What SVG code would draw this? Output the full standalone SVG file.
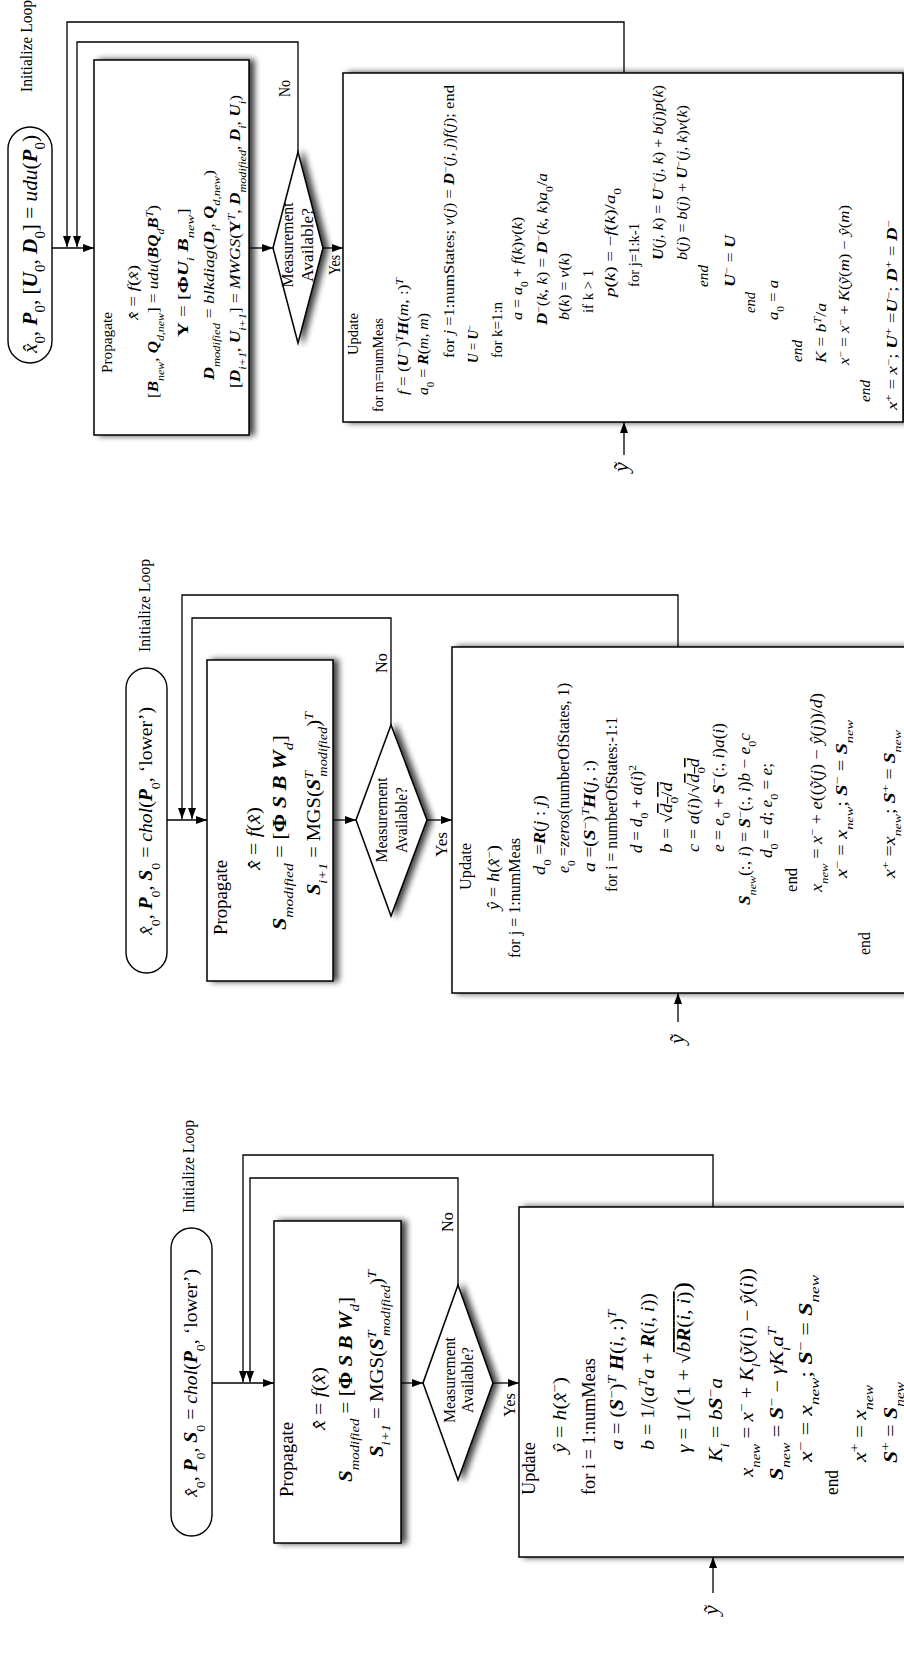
<svg xmlns="http://www.w3.org/2000/svg" width="904" height="1655" viewBox="0 0 904 1655">
<style>
text{font-family:"Liberation Serif","DejaVu Serif",serif;fill:#000}
.i{font-style:italic}
.b{font-weight:bold;font-style:italic}
.bu{font-weight:bold}
.sb{font-size:70%;baseline-shift:sub}
.sp{font-size:70%;baseline-shift:super}
.f1{font-size:18px}
.f2{font-size:16px}
.f3{font-size:14px}
.f4{font-size:15px}
.lb{font-size:16px}
.pl{font-size:19px}
.yt{font-size:22px;font-style:italic;text-anchor:middle}
.mid{text-anchor:middle}
.pill{fill:#fff;stroke:#000;stroke-width:1.4}
.box{fill:#fff;stroke:#000;stroke-width:1.5;filter:url(#sh)}
.ln{fill:none;stroke:#000;stroke-width:1.3}
.ar{marker-end:url(#ah)}
.ov{text-decoration:overline}
</style>
<defs>
<marker id="ah" viewBox="0 0 11 8" refX="11" refY="4" markerWidth="11" markerHeight="8" markerUnits="userSpaceOnUse" orient="auto"><path d="M0,0 L11,4 L0,8 z" fill="#000"/></marker>
<filter id="sh" x="-5%" y="-10%" width="115%" height="130%">
<feGaussianBlur in="SourceAlpha" stdDeviation="3"/>
<feOffset dx="0" dy="5"/>
<feComponentTransfer><feFuncA type="linear" slope="0.75"/></feComponentTransfer>
<feMerge><feMergeNode/><feMergeNode in="SourceGraphic"/></feMerge>
</filter>
</defs>
<rect width="904" height="1655" fill="#fff"/>
<g transform="translate(0,1655) rotate(-90)">

<!-- ===== Chart 1 ===== -->
<g id="c1-start">
<rect class="pill" x="119" y="171" width="308" height="41" rx="20.5"/>
<text class="pl mid" x="272" y="197" textLength="228" lengthAdjust="spacingAndGlyphs"><tspan class="i">x̂</tspan><tspan class="sb">0</tspan>,  <tspan class="b">P</tspan><tspan class="sb">0</tspan>,  <tspan class="b">S</tspan><tspan class="sb">0</tspan> = <tspan class="i">chol</tspan>(<tspan class="b">P</tspan><tspan class="sb">0</tspan>, ‘lower’)</text>
</g>
<g id="c1-propagate">
<rect class="box" x="112" y="274" width="322" height="127"/>
<text class="f1" x="158" y="293" textLength="75" lengthAdjust="spacingAndGlyphs">Propagate</text>
<text class="f1" x="225" y="325" textLength="63" lengthAdjust="spacingAndGlyphs"><tspan class="i">x̂̇</tspan> = <tspan class="i">f</tspan>(<tspan class="i">x̂</tspan>)</text>
<text class="f1" x="173" y="352" textLength="185" lengthAdjust="spacingAndGlyphs"><tspan class="b">S</tspan><tspan class="sb i">modified</tspan> = [<tspan class="bu">Φ</tspan> <tspan class="b">S</tspan>   <tspan class="b">B</tspan> <tspan class="b">W</tspan><tspan class="sb i">d</tspan>]</text>
<text class="f1" x="198" y="383" textLength="187" lengthAdjust="spacingAndGlyphs"><tspan class="b">S</tspan><tspan class="sb i">i+1</tspan> = MGS(<tspan class="b">S</tspan><tspan class="sp i">T</tspan><tspan class="sb i" dx="-5">modified</tspan>)<tspan class="sp i">T</tspan></text>
</g>
<g id="c1-decision">
<polygon class="box" points="272,423 370,458 272,493 175,458"/>
<text class="lb mid" x="275" y="455" textLength="86" lengthAdjust="spacingAndGlyphs">Measurement</text>
<text class="lb mid" x="275" y="473" textLength="66" lengthAdjust="spacingAndGlyphs">Available?</text>
</g>
<g id="c1-update">
<rect class="box" x="98" y="519" width="350" height="400"/>
<text class="f1" x="160" y="535" textLength="53" lengthAdjust="spacingAndGlyphs">Update</text>
<text class="f1" x="202" y="566" textLength="76" lengthAdjust="spacingAndGlyphs"><tspan class="i">ŷ</tspan> = <tspan class="i">h</tspan>(<tspan class="i">x̂</tspan><tspan class="sp">−</tspan>)</text>
<text class="f1" x="160" y="595" textLength="137" lengthAdjust="spacingAndGlyphs">for i = 1:numMeas</text>
<text class="f1" x="205" y="623" textLength="140" lengthAdjust="spacingAndGlyphs"><tspan class="i">a</tspan> = (<tspan class="b">S</tspan><tspan class="sp">−</tspan>)<tspan class="sp i">T</tspan> <tspan class="b">H</tspan>(<tspan class="i">i</tspan>, :)<tspan class="sp i">T</tspan></text>
<text class="f1" x="205" y="654" textLength="157" lengthAdjust="spacingAndGlyphs"><tspan class="i">b</tspan> = 1/(<tspan class="i">a</tspan><tspan class="sp i">T</tspan><tspan class="i">a</tspan> + <tspan class="b">R</tspan>(<tspan class="i">i</tspan>, <tspan class="i">i</tspan>))</text>
<text class="f1" x="202" y="690" textLength="171" lengthAdjust="spacingAndGlyphs"><tspan class="i">γ</tspan> = 1/<tspan font-size="24">(</tspan>1 + √<tspan class="ov"><tspan class="i">b</tspan><tspan class="b">R</tspan>(<tspan class="i">i</tspan>, <tspan class="i">i</tspan>)</tspan><tspan font-size="24">)</tspan></text>
<text class="f1" x="193" y="722" textLength="84" lengthAdjust="spacingAndGlyphs"><tspan class="i">K</tspan><tspan class="sb i">i</tspan> = <tspan class="i">b</tspan><tspan class="b">S</tspan><tspan class="sp">−</tspan><tspan class="i">a</tspan></text>
<text class="f1" x="178" y="753" textLength="209" lengthAdjust="spacingAndGlyphs"><tspan class="i">x</tspan><tspan class="sb i">new</tspan> = <tspan class="i">x</tspan><tspan class="sp">−</tspan> + <tspan class="i">K</tspan><tspan class="sb i">i</tspan>(<tspan class="i">ỹ</tspan>(<tspan class="i">i</tspan>) − <tspan class="i">ŷ</tspan>(<tspan class="i">i</tspan>))</text>
<text class="f1" x="175" y="783" textLength="153" lengthAdjust="spacingAndGlyphs"><tspan class="b">S</tspan><tspan class="sb i">new</tspan> = <tspan class="b">S</tspan><tspan class="sp">−</tspan> − <tspan class="i">γK</tspan><tspan class="sb i">i</tspan><tspan class="i">a</tspan><tspan class="sp i">T</tspan></text>
<text class="f1" x="193" y="812" textLength="187" lengthAdjust="spacingAndGlyphs"><tspan class="i">x</tspan><tspan class="sp">−</tspan> = <tspan class="i">x</tspan><tspan class="sb i">new</tspan>;    <tspan class="b">S</tspan><tspan class="sp">−</tspan> = <tspan class="b">S</tspan><tspan class="sb i">new</tspan></text>
<text class="f1" x="160" y="838" textLength="25" lengthAdjust="spacingAndGlyphs">end</text>
<text class="f1" x="193" y="866" textLength="77" lengthAdjust="spacingAndGlyphs"><tspan class="i">x</tspan><tspan class="sp">+</tspan> = <tspan class="i">x</tspan><tspan class="sb i">new</tspan></text>
<text class="f1" x="192" y="897" textLength="81" lengthAdjust="spacingAndGlyphs"><tspan class="b">S</tspan><tspan class="sp">+</tspan> = <tspan class="b">S</tspan><tspan class="sb i">new</tspan></text>
</g>

<!-- ===== Chart 2 ===== -->
<g id="c2-start">
<rect class="pill" x="682" y="126" width="305" height="41" rx="20.5"/>
<text class="pl mid" x="834" y="152" textLength="228" lengthAdjust="spacingAndGlyphs"><tspan class="i">x̂</tspan><tspan class="sb">0</tspan>,  <tspan class="b">P</tspan><tspan class="sb">0</tspan>,  <tspan class="b">S</tspan><tspan class="sb">0</tspan> = <tspan class="i">chol</tspan>(<tspan class="b">P</tspan><tspan class="sb">0</tspan>, ‘lower’)</text>
</g>
<g id="c2-propagate">
<rect class="box" x="674" y="207" width="321" height="126"/>
<text class="f1" x="720" y="227" textLength="75" lengthAdjust="spacingAndGlyphs">Propagate</text>
<text class="f1" x="785" y="260" textLength="63" lengthAdjust="spacingAndGlyphs"><tspan class="i">x̂̇</tspan> = <tspan class="i">f</tspan>(<tspan class="i">x̂</tspan>)</text>
<text class="f1" x="725" y="286" textLength="195" lengthAdjust="spacingAndGlyphs"><tspan class="b">S</tspan><tspan class="sb i">modified</tspan> = [<tspan class="bu">Φ</tspan> <tspan class="b">S</tspan>   <tspan class="b">B</tspan> <tspan class="b">W</tspan><tspan class="sb i">d</tspan>]</text>
<text class="f1" x="760" y="320" textLength="183" lengthAdjust="spacingAndGlyphs"><tspan class="b">S</tspan><tspan class="sb i">i+1</tspan> = MGS(<tspan class="b">S</tspan><tspan class="sp i">T</tspan><tspan class="sb i" dx="-5">modified</tspan>)<tspan class="sp i">T</tspan></text>
</g>
<g id="c2-decision">
<polygon class="box" points="835,356 930,391 835,427 739,391"/>
<text class="lb mid" x="835" y="387" textLength="85" lengthAdjust="spacingAndGlyphs">Measurement</text>
<text class="lb mid" x="835" y="407" textLength="66" lengthAdjust="spacingAndGlyphs">Available?</text>
</g>
<g id="c2-update">
<rect class="box" x="662" y="452" width="346" height="467"/>
<text class="f2" x="765" y="471" textLength="47" lengthAdjust="spacingAndGlyphs">Update</text>
<text class="f2" x="745" y="499" textLength="65" lengthAdjust="spacingAndGlyphs"><tspan class="i">ŷ</tspan> = <tspan class="i">h</tspan>(<tspan class="i">x̂</tspan><tspan class="sp">−</tspan>)</text>
<text class="f2" x="697" y="520" textLength="120" lengthAdjust="spacingAndGlyphs">for j = 1:numMeas</text>
<text class="f2" x="780" y="545" textLength="80" lengthAdjust="spacingAndGlyphs"><tspan class="i">d</tspan><tspan class="sb">0</tspan> =<tspan class="b">R</tspan>(<tspan class="i">j</tspan> : <tspan class="i">j</tspan>)</text>
<text class="f2" x="782" y="569" textLength="190" lengthAdjust="spacingAndGlyphs"><tspan class="i">e</tspan><tspan class="sb">0</tspan> =<tspan class="i">zeros</tspan>(numberOfStates, 1)</text>
<text class="f2" x="783" y="595" textLength="112" lengthAdjust="spacingAndGlyphs"><tspan class="i">a</tspan> =(<tspan class="b">S</tspan><tspan class="sp">−</tspan>)<tspan class="sp i">T</tspan><tspan class="b">H</tspan>(<tspan class="i">j</tspan>, :)</text>
<text class="f2" x="763" y="617" textLength="175" lengthAdjust="spacingAndGlyphs">for i = numberOfStates:-1:1</text>
<text class="f2" x="802" y="642" textLength="88" lengthAdjust="spacingAndGlyphs"><tspan class="i">d</tspan> = <tspan class="i">d</tspan><tspan class="sb">0</tspan> + <tspan class="i">a</tspan>(<tspan class="i">i</tspan>)<tspan class="sp">2</tspan></text>
<text class="f2" x="802" y="672" textLength="71" lengthAdjust="spacingAndGlyphs"><tspan class="i">b</tspan> = √<tspan class="ov"><tspan class="i">d</tspan><tspan class="sb">0</tspan>/<tspan class="i">d</tspan></tspan></text>
<text class="f2" x="803" y="699" textLength="94" lengthAdjust="spacingAndGlyphs"><tspan class="i">c</tspan> = <tspan class="i">a</tspan>(<tspan class="i">i</tspan>)/√<tspan class="ov"><tspan class="i">d</tspan><tspan class="sb">0</tspan><tspan class="i">d</tspan></tspan></text>
<text class="f2" x="803" y="724" textLength="129" lengthAdjust="spacingAndGlyphs"><tspan class="i">e</tspan> = <tspan class="i">e</tspan><tspan class="sb">0</tspan> + <tspan class="b">S</tspan><tspan class="sp">−</tspan>(:, <tspan class="i">i</tspan>)<tspan class="i">a</tspan>(<tspan class="i">i</tspan>)</text>
<text class="f2" x="750" y="750" textLength="172" lengthAdjust="spacingAndGlyphs"><tspan class="b">S</tspan><tspan class="sb i">new</tspan>(:, <tspan class="i">i</tspan>) = <tspan class="b">S</tspan><tspan class="sp">−</tspan>(:, <tspan class="i">i</tspan>)<tspan class="i">b</tspan> − <tspan class="i">e</tspan><tspan class="sb">0</tspan><tspan class="i">c</tspan></text>
<text class="f2" x="797" y="772" textLength="95" lengthAdjust="spacingAndGlyphs"><tspan class="i">d</tspan><tspan class="sb">0</tspan> = <tspan class="i">d</tspan>; <tspan class="i">e</tspan><tspan class="sb">0</tspan> = <tspan class="i">e</tspan>;</text>
<text class="f2" x="763" y="797" textLength="24" lengthAdjust="spacingAndGlyphs">end</text>
<text class="f2" x="763" y="822" textLength="199" lengthAdjust="spacingAndGlyphs"><tspan class="i">x</tspan><tspan class="sb i">new</tspan> = <tspan class="i">x</tspan><tspan class="sp">−</tspan> + <tspan class="i">e</tspan>((<tspan class="i">ỹ</tspan>(<tspan class="i">j</tspan>) − <tspan class="i">ŷ</tspan>(<tspan class="i">j</tspan>))/<tspan class="i">d</tspan>)</text>
<text class="f2" x="777" y="847" textLength="158" lengthAdjust="spacingAndGlyphs"><tspan class="i">x</tspan><tspan class="sp">−</tspan> = <tspan class="i">x</tspan><tspan class="sb i">new</tspan>; <tspan class="b">S</tspan><tspan class="sp">−</tspan> = <tspan class="b">S</tspan><tspan class="sb i">new</tspan></text>
<text class="f2" x="700" y="870" textLength="23" lengthAdjust="spacingAndGlyphs">end</text>
<text class="f2" x="777" y="895" textLength="148" lengthAdjust="spacingAndGlyphs"><tspan class="i">x</tspan><tspan class="sp">+</tspan> =<tspan class="i">x</tspan><tspan class="sb i">new</tspan>; <tspan class="b">S</tspan><tspan class="sp">+</tspan> = <tspan class="b">S</tspan><tspan class="sb i">new</tspan></text>
</g>

<!-- ===== Chart 3 ===== -->
<g id="c3-start">
<rect class="pill" x="1292" y="8" width="236" height="44" rx="22"/>
<text class="mid" font-size="21" x="1411" y="37" textLength="218" lengthAdjust="spacingAndGlyphs"><tspan class="i">x̂</tspan><tspan class="sb">0</tspan>,  <tspan class="b">P</tspan><tspan class="sb">0</tspan>,  [<tspan class="b">U</tspan><tspan class="sb">0</tspan>, <tspan class="b">D</tspan><tspan class="sb">0</tspan>] = <tspan class="i">udu</tspan>(<tspan class="b">P</tspan><tspan class="sb">0</tspan>)</text>
</g>
<g id="c3-propagate">
<rect class="box" x="1220" y="94" width="375" height="155"/>
<text class="f4" x="1282" y="112" textLength="61" lengthAdjust="spacingAndGlyphs">Propagate</text>
<text class="f4" x="1335" y="138" textLength="55" lengthAdjust="spacingAndGlyphs"><tspan class="i">x̂̇</tspan> = <tspan class="i">f</tspan>(<tspan class="i">x̂</tspan>)</text>
<text class="f4" x="1257" y="158" textLength="193" lengthAdjust="spacingAndGlyphs">[<tspan class="b">B</tspan><tspan class="sb i">new</tspan>, <tspan class="b">Q</tspan><tspan class="sb i">d,new</tspan>] = <tspan class="i">udu</tspan>(<tspan class="b">BQ</tspan><tspan class="sb i">d</tspan><tspan class="b">B</tspan><tspan class="sp i">T</tspan>)</text>
<text class="f4" x="1318" y="188" textLength="129" lengthAdjust="spacingAndGlyphs"><tspan class="bu">Y</tspan> = [<tspan class="bu">Φ</tspan><tspan class="b">U</tspan><tspan class="sb i">i</tspan>    <tspan class="b">B</tspan><tspan class="sb i">new</tspan>]</text>
<text class="f4" x="1275" y="214" textLength="210" lengthAdjust="spacingAndGlyphs"><tspan class="b">D</tspan><tspan class="sb i">modified</tspan> = <tspan class="i">blkdiag</tspan>(<tspan class="b">D</tspan><tspan class="sb i">i</tspan>, <tspan class="b">Q</tspan><tspan class="sb i">d,new</tspan>)</text>
<text class="f4" x="1267" y="240" textLength="293" lengthAdjust="spacingAndGlyphs">[<tspan class="b">D</tspan><tspan class="sb i">i+1</tspan>, <tspan class="b">U</tspan><tspan class="sb i">i+1</tspan>] = <tspan class="i">MWGS</tspan>(<tspan class="bu">Y</tspan><tspan class="sp i">T</tspan>, <tspan class="b">D</tspan><tspan class="sb i">modified</tspan>, <tspan class="b">D</tspan><tspan class="sb i">i</tspan>, <tspan class="b">U</tspan><tspan class="sb i">i</tspan>)</text>
</g>
<g id="c3-decision">
<polygon class="box" points="1407,273 1503,298 1407,323 1312,298"/>
<text class="lb mid" font-size="18" x="1410" y="293" textLength="85" lengthAdjust="spacingAndGlyphs">Measurement</text>
<text class="lb mid" font-size="18" x="1410" y="313" textLength="74" lengthAdjust="spacingAndGlyphs">Available?</text>
</g>
<g id="c3-update">
<rect class="box" x="1233" y="343" width="349" height="560"/>
<text class="f3" x="1300" y="358" textLength="42" lengthAdjust="spacingAndGlyphs">Update</text>
<text class="f3" x="1243" y="383" textLength="94" lengthAdjust="spacingAndGlyphs">for m=numMeas</text>
<text class="f3" x="1260" y="408" textLength="117" lengthAdjust="spacingAndGlyphs"><tspan class="i">f</tspan> = (<tspan class="b">U</tspan><tspan class="sp">−</tspan>)<tspan class="sp i">T</tspan><tspan class="b">H</tspan>(<tspan class="i">m</tspan>, :)<tspan class="sp i">T</tspan></text>
<text class="f3" x="1260" y="428" textLength="82" lengthAdjust="spacingAndGlyphs"><tspan class="i">a</tspan><tspan class="sb">0</tspan> = <tspan class="b">R</tspan>(<tspan class="i">m</tspan>, <tspan class="i">m</tspan>)</text>
<text class="f3" x="1297" y="454" textLength="273" lengthAdjust="spacingAndGlyphs">for  <tspan class="i">j</tspan> =1:numStates; <tspan class="i">v</tspan>(<tspan class="i">j</tspan>) = <tspan class="b">D</tspan><tspan class="sp">−</tspan>(<tspan class="i">j, j</tspan>)<tspan class="i">f</tspan>(<tspan class="i">j</tspan>);  end</text>
<text class="f3" x="1292" y="478" textLength="38" lengthAdjust="spacingAndGlyphs"><tspan class="b">U</tspan> = <tspan class="b">U</tspan><tspan class="sp">−</tspan></text>
<text class="f3" x="1297" y="502" textLength="56" lengthAdjust="spacingAndGlyphs">for k=1:n</text>
<text class="f3" x="1335" y="522" textLength="103" lengthAdjust="spacingAndGlyphs"><tspan class="i">a</tspan> = <tspan class="i">a</tspan><tspan class="sb">0</tspan> + <tspan class="i">f</tspan>(<tspan class="i">k</tspan>)<tspan class="i">v</tspan>(<tspan class="i">k</tspan>)</text>
<text class="f3" x="1330" y="547" textLength="152" lengthAdjust="spacingAndGlyphs"><tspan class="b">D</tspan><tspan class="sp">−</tspan>(<tspan class="i">k, k</tspan>) = <tspan class="b">D</tspan><tspan class="sp">−</tspan>(<tspan class="i">k, k</tspan>)<tspan class="i">a</tspan><tspan class="sb">0</tspan>/<tspan class="i">a</tspan></text>
<text class="f3" x="1335" y="569" textLength="67" lengthAdjust="spacingAndGlyphs"><tspan class="i">b</tspan>(<tspan class="i">k</tspan>) = <tspan class="i">v</tspan>(<tspan class="i">k</tspan>)</text>
<text class="f3" x="1342" y="593" textLength="43" lengthAdjust="spacingAndGlyphs">if k &gt; 1</text>
<text class="f3" x="1358" y="615" textLength="109" lengthAdjust="spacingAndGlyphs"><tspan class="i">p</tspan>(<tspan class="i">k</tspan>) = −<tspan class="i">f</tspan>(<tspan class="i">k</tspan>)/<tspan class="i">a</tspan><tspan class="sb">0</tspan></text>
<text class="f3" x="1368" y="639" textLength="64" lengthAdjust="spacingAndGlyphs">for j=1:k-1</text>
<text class="f3" x="1395" y="663" textLength="175" lengthAdjust="spacingAndGlyphs"><tspan class="b">U</tspan>(<tspan class="i">j, k</tspan>) = <tspan class="b">U</tspan><tspan class="sp">−</tspan>(<tspan class="i">j, k</tspan>) + <tspan class="i">b</tspan>(<tspan class="i">j</tspan>)<tspan class="i">p</tspan>(<tspan class="i">k</tspan>)</text>
<text class="f3" x="1395" y="687" textLength="155" lengthAdjust="spacingAndGlyphs"><tspan class="i">b</tspan>(<tspan class="i">j</tspan>) = <tspan class="i">b</tspan>(<tspan class="i">j</tspan>) + <tspan class="b">U</tspan><tspan class="sp">−</tspan>(<tspan class="i">j, k</tspan>)<tspan class="i">v</tspan>(<tspan class="i">k</tspan>)</text>
<text class="f3 i" x="1368" y="708" textLength="22" lengthAdjust="spacingAndGlyphs">end</text>
<text class="f3" x="1368" y="735" textLength="52" lengthAdjust="spacingAndGlyphs"><tspan class="b">U</tspan><tspan class="sp">−</tspan> = <tspan class="b">U</tspan></text>
<text class="f3 i" x="1342" y="755" textLength="21" lengthAdjust="spacingAndGlyphs">end</text>
<text class="f3" x="1335" y="778" textLength="40" lengthAdjust="spacingAndGlyphs"><tspan class="i">a</tspan><tspan class="sb">0</tspan> = <tspan class="i">a</tspan></text>
<text class="f3 i" x="1293" y="802" textLength="22" lengthAdjust="spacingAndGlyphs">end</text>
<text class="f3" x="1292" y="826" textLength="60" lengthAdjust="spacingAndGlyphs"><tspan class="i">K</tspan> = <tspan class="i">b</tspan><tspan class="sp i">T</tspan>/<tspan class="i">a</tspan></text>
<text class="f3" x="1290" y="849" textLength="160" lengthAdjust="spacingAndGlyphs"><tspan class="i">x</tspan><tspan class="sp">−</tspan> = <tspan class="i">x</tspan><tspan class="sp">−</tspan> + <tspan class="i">K</tspan>(<tspan class="i">ỹ</tspan>(<tspan class="i">m</tspan>) − <tspan class="i">ŷ</tspan>(<tspan class="i">m</tspan>)</text>
<text class="f3 i" x="1253" y="870" textLength="22" lengthAdjust="spacingAndGlyphs">end</text>
<text class="f3" x="1245" y="897" textLength="190" lengthAdjust="spacingAndGlyphs"><tspan class="i">x</tspan><tspan class="sp">+</tspan> = <tspan class="i">x</tspan><tspan class="sp">−</tspan>; <tspan class="b">U</tspan><tspan class="sp">+</tspan> =<tspan class="b">U</tspan><tspan class="sp">−</tspan>; <tspan class="b">D</tspan><tspan class="sp">+</tspan> = <tspan class="b">D</tspan><tspan class="sp">−</tspan></text>
</g>

<!-- ===== Connectors ===== -->
<g id="connectors">
<path class="ln ar" d="M272,212 V274"/>
<path class="ln ar" d="M448,713 H500 V243 H273"/>
<path class="ln ar" d="M370,458 H477 V250 H273"/>
<path class="ln ar" d="M272,401 V423"/>
<path class="ln ar" d="M272,493 V519"/>
<path class="ln ar" d="M62,713 H98"/>
<text class="lb" x="442" y="194" textLength="93" lengthAdjust="spacingAndGlyphs">Initialize Loop</text>
<text class="lb" x="423" y="453" textLength="20" lengthAdjust="spacingAndGlyphs">No</text>
<text class="lb" x="238" y="515" textLength="24" lengthAdjust="spacingAndGlyphs">Yes</text>
<text class="yt" x="45" y="718">ỹ</text>

<path class="ln ar" d="M835,167 V207"/>
<path class="ln ar" d="M1008,678 H1060 V182 H836"/>
<path class="ln ar" d="M930,391 H1037 V192 H836"/>
<path class="ln ar" d="M835,333 V356"/>
<path class="ln ar" d="M835,427 V452"/>
<path class="ln ar" d="M633,678 H662"/>
<text class="lb" x="1003" y="150" textLength="93" lengthAdjust="spacingAndGlyphs">Initialize Loop</text>
<text class="lb" x="982" y="387" textLength="20" lengthAdjust="spacingAndGlyphs">No</text>
<text class="lb" x="798" y="447" textLength="25" lengthAdjust="spacingAndGlyphs">Yes</text>
<text class="yt" x="616" y="684">ỹ</text>

<path class="ln ar" d="M1407,52 V94"/>
<path class="ln ar" d="M1582,624 H1633 V67 H1408"/>
<path class="ln ar" d="M1503,298 H1613 V77 H1408"/>
<path class="ln ar" d="M1407,249 V273"/>
<path class="ln ar" d="M1407,323 V343"/>
<path class="ln ar" d="M1200,624 H1233"/>
<text class="lb" x="1563" y="32" textLength="92" lengthAdjust="spacingAndGlyphs">Initialize Loop</text>
<text class="lb" x="1558" y="290" textLength="17" lengthAdjust="spacingAndGlyphs">No</text>
<text class="lb" x="1380" y="340" textLength="20" lengthAdjust="spacingAndGlyphs">Yes</text>
<text class="yt" x="1188" y="628">ỹ</text>
</g>
</g>
</svg>
